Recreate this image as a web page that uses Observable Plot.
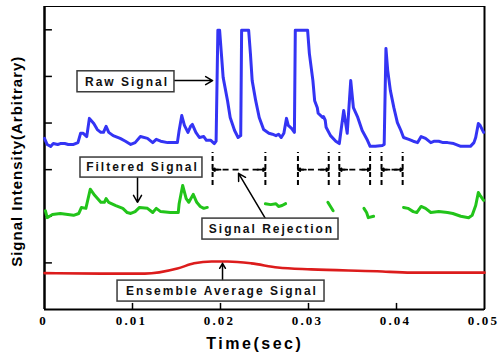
<!DOCTYPE html>
<html>
<head>
<meta charset="utf-8">
<script src="https://cdn.jsdelivr.net/npm/d3@7"></script>
<script src="https://cdn.jsdelivr.net/npm/@observablehq/plot@0.6"></script>
<style>
  html, body { margin: 0; padding: 0; background: #fff; }
  #chart svg { overflow: visible; }
</style>
</head>
<body>
<div id="chart"></div>
<script>
// ---- Raw signal (blue) ----
const rawTime = [0,0.0003,0.0007,0.001,0.0015,0.0018,0.0023,0.0027,0.0033,0.0038,0.0041,0.0044,0.0048,0.0051,0.0056,0.006,0.0064,0.0067,0.007,0.0073,0.0078,0.0086,0.0092,0.0098,0.0103,0.0109,0.0117,0.0123,0.0127,0.0132,0.014,0.0147,0.0151,0.0153,0.0156,0.0159,0.0163,0.0166,0.0168,0.0172,0.0176,0.0181,0.0184,0.0189,0.0193,0.0195,0.0197,0.0199,0.0201,0.0203,0.0208,0.0211,0.0216,0.022,0.0223,0.0224,0.0232,0.0234,0.0236,0.024,0.0244,0.0249,0.0255,0.0259,0.0263,0.0266,0.0269,0.0272,0.0275,0.0277,0.0281,0.0284,0.0285,0.0299,0.0301,0.0305,0.0307,0.031,0.0311,0.0316,0.0317,0.0319,0.032,0.0325,0.0331,0.0335,0.034,0.0344,0.0348,0.0351,0.0356,0.0361,0.0367,0.037,0.0376,0.0384,0.0386,0.0388,0.039,0.0393,0.0397,0.0401,0.0405,0.0408,0.0414,0.0419,0.0424,0.0428,0.0433,0.0439,0.0443,0.0448,0.0453,0.0458,0.0465,0.0473,0.048,0.0484,0.0488,0.049,0.0493,0.0495,0.0499];
const rawSignal = [3.67,3.54,3.50,3.56,3.54,3.56,3.56,3.54,3.54,3.58,3.78,3.78,3.71,4.10,3.99,3.86,3.80,3.80,3.93,3.80,3.73,3.67,3.61,3.54,3.58,3.71,3.67,3.58,3.65,3.61,3.58,3.58,3.58,3.84,4.16,3.95,3.80,3.93,3.97,3.80,3.69,3.71,3.63,3.63,3.56,3.61,5.99,5.99,5.49,4.98,4.48,4.12,3.84,3.69,3.73,5.99,5.99,5.49,4.91,4.48,4.12,3.86,3.78,3.76,3.73,3.76,3.69,3.78,4.10,3.95,3.88,3.80,5.99,5.99,5.49,4.91,4.48,4.33,4.21,4.12,4.14,4.06,3.91,3.73,3.61,3.56,4.27,3.78,4.91,4.33,4.12,3.84,3.63,3.50,3.50,3.52,3.54,5.60,5.13,4.70,4.33,4.01,3.84,3.69,3.65,3.61,3.58,3.71,3.67,3.58,3.61,3.61,3.58,3.58,3.56,3.50,3.50,3.50,3.58,3.69,3.99,3.95,3.80];

// ---- Filtered signal (green), pieces kept after rejection ----
const filteredTime = [0.0001,0.0003,0.0009,0.0018,0.0033,0.0039,0.0042,0.0047,0.0052,0.0057,0.0064,0.0068,0.0070,0.0073,0.0081,0.0089,0.0094,0.0098,0.0103,0.0108,0.0117,0.0123,0.0127,0.0132,0.0143,0.0152,0.0153,0.0157,0.0161,0.0164,0.0169,0.0173,0.0177,0.0181,0.0185,
  0.0251,0.0257,0.0263,0.0266,0.0270,0.0274,
  0.0322,0.0325,0.0328,
  0.0363,0.0366,0.0368,0.0374,
  0.0408,0.0413,0.0419,0.0423,0.0428,0.0433,0.0439,0.0448,0.0458,0.0464,0.0473,0.0482,0.0486,0.0490,0.0493,0.0495,0.0499];
const filteredSignal = [2.12,1.97,2.04,2.06,2.02,2.06,2.19,2.17,2.58,2.45,2.30,2.30,2.38,2.30,2.23,2.17,2.08,2.06,2.10,2.19,2.17,2.08,2.17,2.10,2.08,2.08,2.27,2.66,2.38,2.30,2.47,2.30,2.21,2.17,2.19,
  2.27,2.25,2.27,2.21,2.23,2.27,
  2.30,2.21,2.12,
  2.17,2.08,1.97,2.00,
  2.19,2.17,2.10,2.08,2.21,2.17,2.08,2.10,2.08,2.06,2.00,1.97,2.02,2.23,2.51,2.45,2.34];
const filteredPiece = [1,1,1,1,1,1,1,1,1,1,1,1,1,1,1,1,1,1,1,1,1,1,1,1,1,1,1,1,1,1,1,1,1,1,1,
  2,2,2,2,2,2,
  3,3,3,
  4,4,4,4,
  5,5,5,5,5,5,5,5,5,5,5,5,5,5,5,5,5];

// ---- Ensemble average signal (red) ----
const avgTime = [0,0.0064,0.0114,0.0151,0.017,0.019,0.0208,0.0235,0.0265,0.0303,0.0378,0.0417,0.0497,0.05];
const avgSignal = [0.78,0.77,0.77,0.88,0.99,1.03,1.03,0.99,0.90,0.86,0.82,0.79,0.79,0.79];

// ---- Axes ----
const xTicks = [0, 0.01, 0.02, 0.03, 0.04, 0.05];
const xTickLabels = ["0", "0.01", "0.02", "0.03", "0.04", "0.05"];
const yTicks = [1, 2, 3, 4, 5, 6];
const xTitle = "Time(sec)";
const yTitle = "Signal Intensity(Arbitrary)";

// ---- Annotation labels (boxes) ----
const labelText = ["Raw Signal", "Filtered Signal", "Signal Rejection", "Ensemble Average Signal"];
const labelX1 = [0.00375, 0.00409, 0.01795, 0.0083];
const labelX2 = [0.01477, 0.01795, 0.03341, 0.03182];
const labelY1 = [4.66, 2.83, 1.50, 0.17];
const labelY2 = [5.11, 3.26, 1.95, 0.62];
// pointer arrows from boxes
const pointerX1 = [0.01477, 0.01057, 0.02511, 0.02023];
const pointerY1 = [4.91, 2.83, 1.95, 0.62];
const pointerX2 = [0.0191, 0.01057, 0.02205, 0.02023];
const pointerY2 = [4.91, 2.30, 2.92, 0.99];

// ---- Rejection windows ----
const rejectStart = [0.0191, 0.0288, 0.0335, 0.0383];
const rejectEnd = [0.0251, 0.0323, 0.0370, 0.0407];
const rejectTop = 3.37, rejectBottom = 2.66, rejectArrowLevel = 3.0;

// tables
const raw = rawTime.map((t, i) => ({t, v: rawSignal[i]}));
const filtered = filteredTime.map((t, i) => ({t, v: filteredSignal[i], p: filteredPiece[i]}));
const avg = avgTime.map((t, i) => ({t, v: avgSignal[i]}));
const boxes = labelText.map((s, i) => ({s, x1: labelX1[i], x2: labelX2[i], y1: labelY1[i], y2: labelY2[i]}));
const pointers = labelText.map((s, i) => ({x1: pointerX1[i], y1: pointerY1[i], x2: pointerX2[i], y2: pointerY2[i]}));
const windows = rejectStart.map((a, i) => ({a, b: rejectEnd[i]}));
const rejectLines = rejectStart.concat(rejectEnd);
const headLen = 0.0009;

const labelFont = "Liberation Sans";
const tickFont = "Liberation Serif";

const chart = Plot.plot({
  width: 499,
  height: 362,
  marginLeft: 44,
  marginRight: 15,
  marginTop: 6,
  marginBottom: 53,
  x: {domain: [0, 0.05], axis: null},
  y: {domain: [0, 6.5], axis: null},
  style: {background: "white"},
  marks: [
    Plot.frame({stroke: "black", strokeWidth: 1}),
    Plot.ruleX([0], {stroke: "black", strokeWidth: 2.5}),
    Plot.ruleX([0.05], {stroke: "black", strokeWidth: 2}),
    Plot.ruleY([0], {stroke: "black", strokeWidth: 2}),
    Plot.ruleY(yTicks, {x1: 0, x2: 0.0009, stroke: "black", strokeWidth: 1.5}),
    Plot.ruleX(xTicks.slice(1, -1), {y1: 0, y2: 0.13, stroke: "black", strokeWidth: 1.5}),
    Plot.text(xTicks, {x: d => d, frameAnchor: "bottom", dy: 15, dx: -1, text: (d, i) => xTickLabels[i],
      fontFamily: tickFont, fontWeight: "bold", fontSize: 13, fill: "black"}),
    Plot.text([xTitle], {x: 0.0239, frameAnchor: "bottom", dy: 39, text: d => d,
      fontFamily: labelFont, fontWeight: "bold", fontSize: 16, fill: "black"}),
    Plot.text([yTitle], {y: 3.18, frameAnchor: "left", textAnchor: "middle", dx: -27, rotate: -90, text: d => d,
      fontFamily: labelFont, fontWeight: "bold", fontSize: 15, fill: "black"}),

    // signals
    Plot.line(raw, {x: "t", y: "v", stroke: "#3434f4", strokeWidth: 3, strokeLinejoin: "round"}),
    Plot.line(filtered, {x: "t", y: "v", z: "p", stroke: "#22c41a", strokeWidth: 3, strokeLinejoin: "round"}),
    Plot.line(avg, {x: "t", y: "v", stroke: "#dc1c1c", strokeWidth: 2.6, curve: "monotone-x"}),

    // rejection windows
    Plot.ruleX(rejectLines, {y1: rejectBottom, y2: rejectTop, stroke: "black", strokeWidth: 2, strokeDasharray: "5,3"}),
    Plot.link(windows, {x1: "a", x2: "b", y1: rejectArrowLevel, y2: rejectArrowLevel, stroke: "black", strokeWidth: 1.8, strokeDasharray: "6,4"}),
    Plot.arrow(windows, {x1: d => d.a + headLen, x2: "a", y1: rejectArrowLevel, y2: rejectArrowLevel, stroke: "black", strokeWidth: 1.8, headLength: 8}),
    Plot.arrow(windows, {x1: d => d.b - headLen, x2: "b", y1: rejectArrowLevel, y2: rejectArrowLevel, stroke: "black", strokeWidth: 1.8, headLength: 8}),

    // label boxes
    Plot.arrow(pointers, {x1: "x1", y1: "y1", x2: "x2", y2: "y2", stroke: "black", strokeWidth: 1.5, headLength: 8}),
    Plot.rect(boxes, {x1: "x1", x2: "x2", y1: "y1", y2: "y2", fill: "white", stroke: "#3a3a3a", strokeWidth: 1.5}),
    Plot.text(boxes, {x: d => (d.x1 + d.x2) / 2, y: d => (d.y1 + d.y2) / 2, text: "s", dx: 1,
      fontFamily: labelFont, fontWeight: "bold", fontSize: 12, fill: "#111"})
  ]
});

// letter spacing, as in the reference's spaced lettering
d3.select(chart).selectAll("text").each(function() {
  const s = this.textContent;
  let ls = null;
  if (labelText.includes(s)) ls = 2;
  else if (xTickLabels.includes(s)) ls = 2.2;
  else if (s === xTitle) ls = 2.5;
  else if (s === yTitle) ls = 1;
  if (ls != null) this.style.letterSpacing = ls + "px";
});
document.getElementById("chart").appendChild(chart);
</script>
</body>
</html>
